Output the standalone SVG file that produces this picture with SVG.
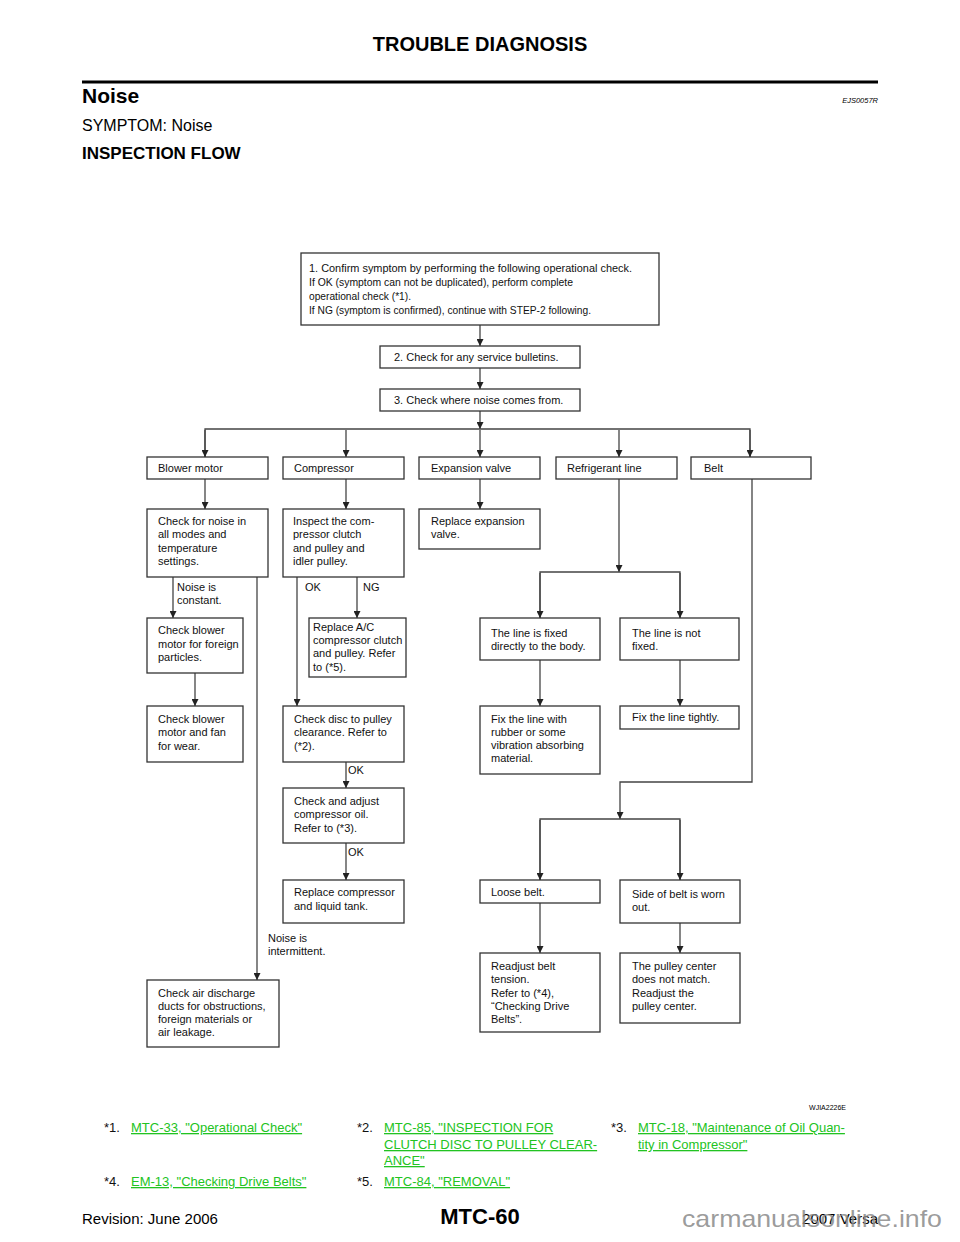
<svg xmlns="http://www.w3.org/2000/svg" width="960" height="1242" viewBox="0 0 960 1242">
<style>
.t{font-family:"Liberation Sans",Arial,sans-serif;font-size:11px;fill:#111}
.b{fill:#fff;stroke:#333;stroke-width:1.3}
.c{fill:none;stroke:#444;stroke-width:1.3}
.h{font-family:"Liberation Sans",Arial,sans-serif;fill:#000}
.lk{font-family:"Liberation Sans",Arial,sans-serif;font-size:13px;fill:#22c322;text-decoration:underline}
.n{font-family:"Liberation Sans",Arial,sans-serif;font-size:13px;fill:#111}
</style>
<defs>
<marker id="ah" viewBox="0 0 8 8" refX="8" refY="4" markerWidth="7" markerHeight="7" orient="auto" markerUnits="userSpaceOnUse"><path d="M0,0 L8,4 L0,8 z" fill="#222"/></marker>
</defs>
<rect width="960" height="1242" fill="#fff"/>
<g id="header">
<text class="h" x="480" y="51" text-anchor="middle" font-size="20" font-weight="bold">TROUBLE DIAGNOSIS</text>
<line x1="82" y1="82" x2="878" y2="82" stroke="#000" stroke-width="3"/>
<text class="h" x="82" y="103" font-size="21" font-weight="bold">Noise</text>
<text class="h" x="878" y="103" font-size="7.5" font-style="italic" text-anchor="end">EJS0057R</text>
<text class="h" x="82" y="131" font-size="16">SYMPTOM: Noise</text>
<text class="h" x="82" y="159" font-size="17" font-weight="bold">INSPECTION FLOW</text>
</g>
<g id="connectors">
<path class="c" d="M480,325 V346" marker-end="url(#ah)"/>
<path class="c" d="M480,368 V389" marker-end="url(#ah)"/>
<path class="c" d="M480,411 V429" marker-end="url(#ah)"/>
<path class="c" d="M205,457 V429 H750 V457"/>
<path class="c" d="M205,430 V457" marker-end="url(#ah)"/>
<path class="c" d="M346,430 V457" marker-end="url(#ah)"/>
<path class="c" d="M480,430 V457" marker-end="url(#ah)"/>
<path class="c" d="M619,430 V457" marker-end="url(#ah)"/>
<path class="c" d="M750,430 V457" marker-end="url(#ah)"/>
<path class="c" d="M205,479 V509" marker-end="url(#ah)"/>
<path class="c" d="M346,479 V509" marker-end="url(#ah)"/>
<path class="c" d="M480,479 V509" marker-end="url(#ah)"/>
<path class="c" d="M619,479 V572" marker-end="url(#ah)"/>
<path class="c" d="M540,618 V572 H680 V618"/>
<path class="c" d="M540,573 V618" marker-end="url(#ah)"/>
<path class="c" d="M680,573 V618" marker-end="url(#ah)"/>
<path class="c" d="M540,660 V706" marker-end="url(#ah)"/>
<path class="c" d="M680,660 V706" marker-end="url(#ah)"/>
<path class="c" d="M752,479 V782 H620 V819" marker-end="url(#ah)"/>
<path class="c" d="M540,880 V819 H680 V880"/>
<path class="c" d="M540,820 V880" marker-end="url(#ah)"/>
<path class="c" d="M680,820 V880" marker-end="url(#ah)"/>
<path class="c" d="M540,903 V953" marker-end="url(#ah)"/>
<path class="c" d="M680,923 V953" marker-end="url(#ah)"/>
<path class="c" d="M173,577 V618" marker-end="url(#ah)"/>
<path class="c" d="M257,577 V980" marker-end="url(#ah)"/>
<path class="c" d="M195,673 V706" marker-end="url(#ah)"/>
<path class="c" d="M297,577 V706" marker-end="url(#ah)"/>
<path class="c" d="M357,577 V618" marker-end="url(#ah)"/>
<path class="c" d="M346,762 V788" marker-end="url(#ah)"/>
<path class="c" d="M346,843 V880" marker-end="url(#ah)"/>
<text class="t" x="177" y="591">Noise is</text>
<text class="t" x="177" y="604">constant.</text>
<text class="t" x="305" y="591">OK</text>
<text class="t" x="363" y="591">NG</text>
<text class="t" x="348" y="774">OK</text>
<text class="t" x="348" y="856">OK</text>
<text class="t" x="268" y="942">Noise is</text>
<text class="t" x="268" y="955">intermittent.</text>
</g>
<g id="n1"><rect class="b" x="301" y="253" width="358" height="72"/>
<text class="t" x="309" y="272" textLength="323" lengthAdjust="spacingAndGlyphs">1. Confirm symptom by performing the following operational check.</text>
<text class="t" x="309" y="286" textLength="264" lengthAdjust="spacingAndGlyphs">If OK (symptom can not be duplicated), perform complete</text>
<text class="t" x="309" y="300" textLength="102" lengthAdjust="spacingAndGlyphs">operational check (*1).</text>
<text class="t" x="309" y="314" textLength="282" lengthAdjust="spacingAndGlyphs">If NG (symptom is confirmed), continue with STEP-2 following.</text></g>
<g id="n2"><rect class="b" x="380" y="346" width="200" height="22"/><text class="t" x="394" y="361">2. Check for any service bulletins.</text></g>
<g id="n3"><rect class="b" x="380" y="389" width="200" height="22"/><text class="t" x="394" y="404">3. Check where noise comes from.</text></g>
<g id="blower"><rect class="b" x="147" y="457" width="121" height="22"/><text class="t" x="158" y="472">Blower motor</text></g>
<g id="compressor"><rect class="b" x="283" y="457" width="121" height="22"/><text class="t" x="294" y="472">Compressor</text></g>
<g id="expansion"><rect class="b" x="419" y="457" width="121" height="22"/><text class="t" x="431" y="472">Expansion valve</text></g>
<g id="refrigerant"><rect class="b" x="556" y="457" width="121" height="22"/><text class="t" x="567" y="472">Refrigerant line</text></g>
<g id="belt"><rect class="b" x="691" y="457" width="120" height="22"/><text class="t" x="704" y="472">Belt</text></g>
<g id="checknoise"><rect class="b" x="147" y="509" width="121" height="68"/>
<text class="t" x="158" y="525">Check for noise in</text><text class="t" x="158" y="538">all modes and</text><text class="t" x="158" y="552">temperature</text><text class="t" x="158" y="565">settings.</text></g>
<g id="inspect"><rect class="b" x="283" y="509" width="121" height="68"/>
<text class="t" x="293" y="525">Inspect the com-</text><text class="t" x="293" y="538">pressor clutch</text><text class="t" x="293" y="552">and pulley and</text><text class="t" x="293" y="565">idler pulley.</text></g>
<g id="replaceexp"><rect class="b" x="419" y="509" width="121" height="40"/>
<text class="t" x="431" y="525">Replace expansion</text><text class="t" x="431" y="538">valve.</text></g>
<g id="foreign"><rect class="b" x="147" y="618" width="96" height="55"/>
<text class="t" x="158" y="634">Check blower</text><text class="t" x="158" y="648">motor for foreign</text><text class="t" x="158" y="661">particles.</text></g>
<g id="replaceac"><rect class="b" x="309" y="618" width="97" height="59"/>
<text class="t" x="313" y="631">Replace A/C</text><text class="t" x="313" y="644">compressor clutch</text><text class="t" x="313" y="657">and pulley. Refer</text><text class="t" x="313" y="671">to (*5).</text></g>
<g id="linefixed"><rect class="b" x="480" y="618" width="120" height="42"/>
<text class="t" x="491" y="637">The line is fixed</text><text class="t" x="491" y="650">directly to the body.</text></g>
<g id="linenotfixed"><rect class="b" x="620" y="618" width="119" height="42"/>
<text class="t" x="632" y="637">The line is not</text><text class="t" x="632" y="650">fixed.</text></g>
<g id="wear"><rect class="b" x="147" y="706" width="96" height="56"/>
<text class="t" x="158" y="723">Check blower</text><text class="t" x="158" y="736">motor and fan</text><text class="t" x="158" y="750">for wear.</text></g>
<g id="disc"><rect class="b" x="283" y="706" width="121" height="56"/>
<text class="t" x="294" y="723">Check disc to pulley</text><text class="t" x="294" y="736">clearance. Refer to</text><text class="t" x="294" y="750">(*2).</text></g>
<g id="rubber"><rect class="b" x="480" y="706" width="120" height="68"/>
<text class="t" x="491" y="723">Fix the line with</text><text class="t" x="491" y="736">rubber or some</text><text class="t" x="491" y="749">vibration absorbing</text><text class="t" x="491" y="762">material.</text></g>
<g id="tightly"><rect class="b" x="620" y="706" width="119" height="23"/>
<text class="t" x="632" y="721">Fix the line tightly.</text></g>
<g id="oil"><rect class="b" x="283" y="788" width="121" height="55"/>
<text class="t" x="294" y="805">Check and adjust</text><text class="t" x="294" y="818">compressor oil.</text><text class="t" x="294" y="832">Refer to (*3).</text></g>
<g id="replacecomp"><rect class="b" x="283" y="880" width="121" height="43"/>
<text class="t" x="294" y="896">Replace compressor</text><text class="t" x="294" y="910">and liquid tank.</text></g>
<g id="loose"><rect class="b" x="480" y="880" width="120" height="23"/>
<text class="t" x="491" y="896">Loose belt.</text></g>
<g id="worn"><rect class="b" x="620" y="880" width="120" height="43"/>
<text class="t" x="632" y="898">Side of belt is worn</text><text class="t" x="632" y="911">out.</text></g>
<g id="readjust"><rect class="b" x="480" y="953" width="120" height="79"/>
<text class="t" x="491" y="970">Readjust belt</text><text class="t" x="491" y="983">tension.</text><text class="t" x="491" y="997">Refer to (*4),</text><text class="t" x="491" y="1010">“Checking Drive</text><text class="t" x="491" y="1023">Belts”.</text></g>
<g id="pulley"><rect class="b" x="620" y="953" width="120" height="70"/>
<text class="t" x="632" y="970">The pulley center</text><text class="t" x="632" y="983">does not match.</text><text class="t" x="632" y="997">Readjust the</text><text class="t" x="632" y="1010">pulley center.</text></g>
<g id="ducts"><rect class="b" x="147" y="980" width="132" height="67"/>
<text class="t" x="158" y="997">Check air discharge</text><text class="t" x="158" y="1010">ducts for obstructions,</text><text class="t" x="158" y="1023">foreign materials or</text><text class="t" x="158" y="1036">air leakage.</text></g>
<g id="footer">
<text class="h" x="846" y="1110" font-size="7" text-anchor="end">WJIA2226E</text>
<text class="n" x="104" y="1132">*1.</text><text class="lk" x="131" y="1132">MTC-33, "Operational Check"</text>
<text class="n" x="357" y="1132">*2.</text><text class="lk" x="384" y="1132">MTC-85, "INSPECTION FOR </text><text class="lk" x="384" y="1149">CLUTCH DISC TO PULLEY CLEAR-</text><text class="lk" x="384" y="1165">ANCE"</text>
<text class="n" x="611" y="1132">*3.</text><text class="lk" x="638" y="1132">MTC-18, "Maintenance of Oil Quan-</text><text class="lk" x="638" y="1149">tity in Compressor"</text>
<text class="n" x="104" y="1186">*4.</text><text class="lk" x="131" y="1186">EM-13, "Checking Drive Belts"</text>
<text class="n" x="357" y="1186">*5.</text><text class="lk" x="384" y="1186">MTC-84, "REMOVAL"</text>
<text class="h" x="82" y="1224" font-size="15">Revision: June 2006</text>
<text class="h" x="480" y="1224" font-size="22" font-weight="bold" text-anchor="middle">MTC-60</text>
<text class="h" x="878" y="1224" font-size="15" text-anchor="end">2007 Versa</text>
<text x="682" y="1227" font-family="'Liberation Sans',Arial,sans-serif" font-size="24" fill="#8a8a8a" fill-opacity="0.85" textLength="260" lengthAdjust="spacingAndGlyphs">carmanualsonline.info</text>
</g>
</svg>
